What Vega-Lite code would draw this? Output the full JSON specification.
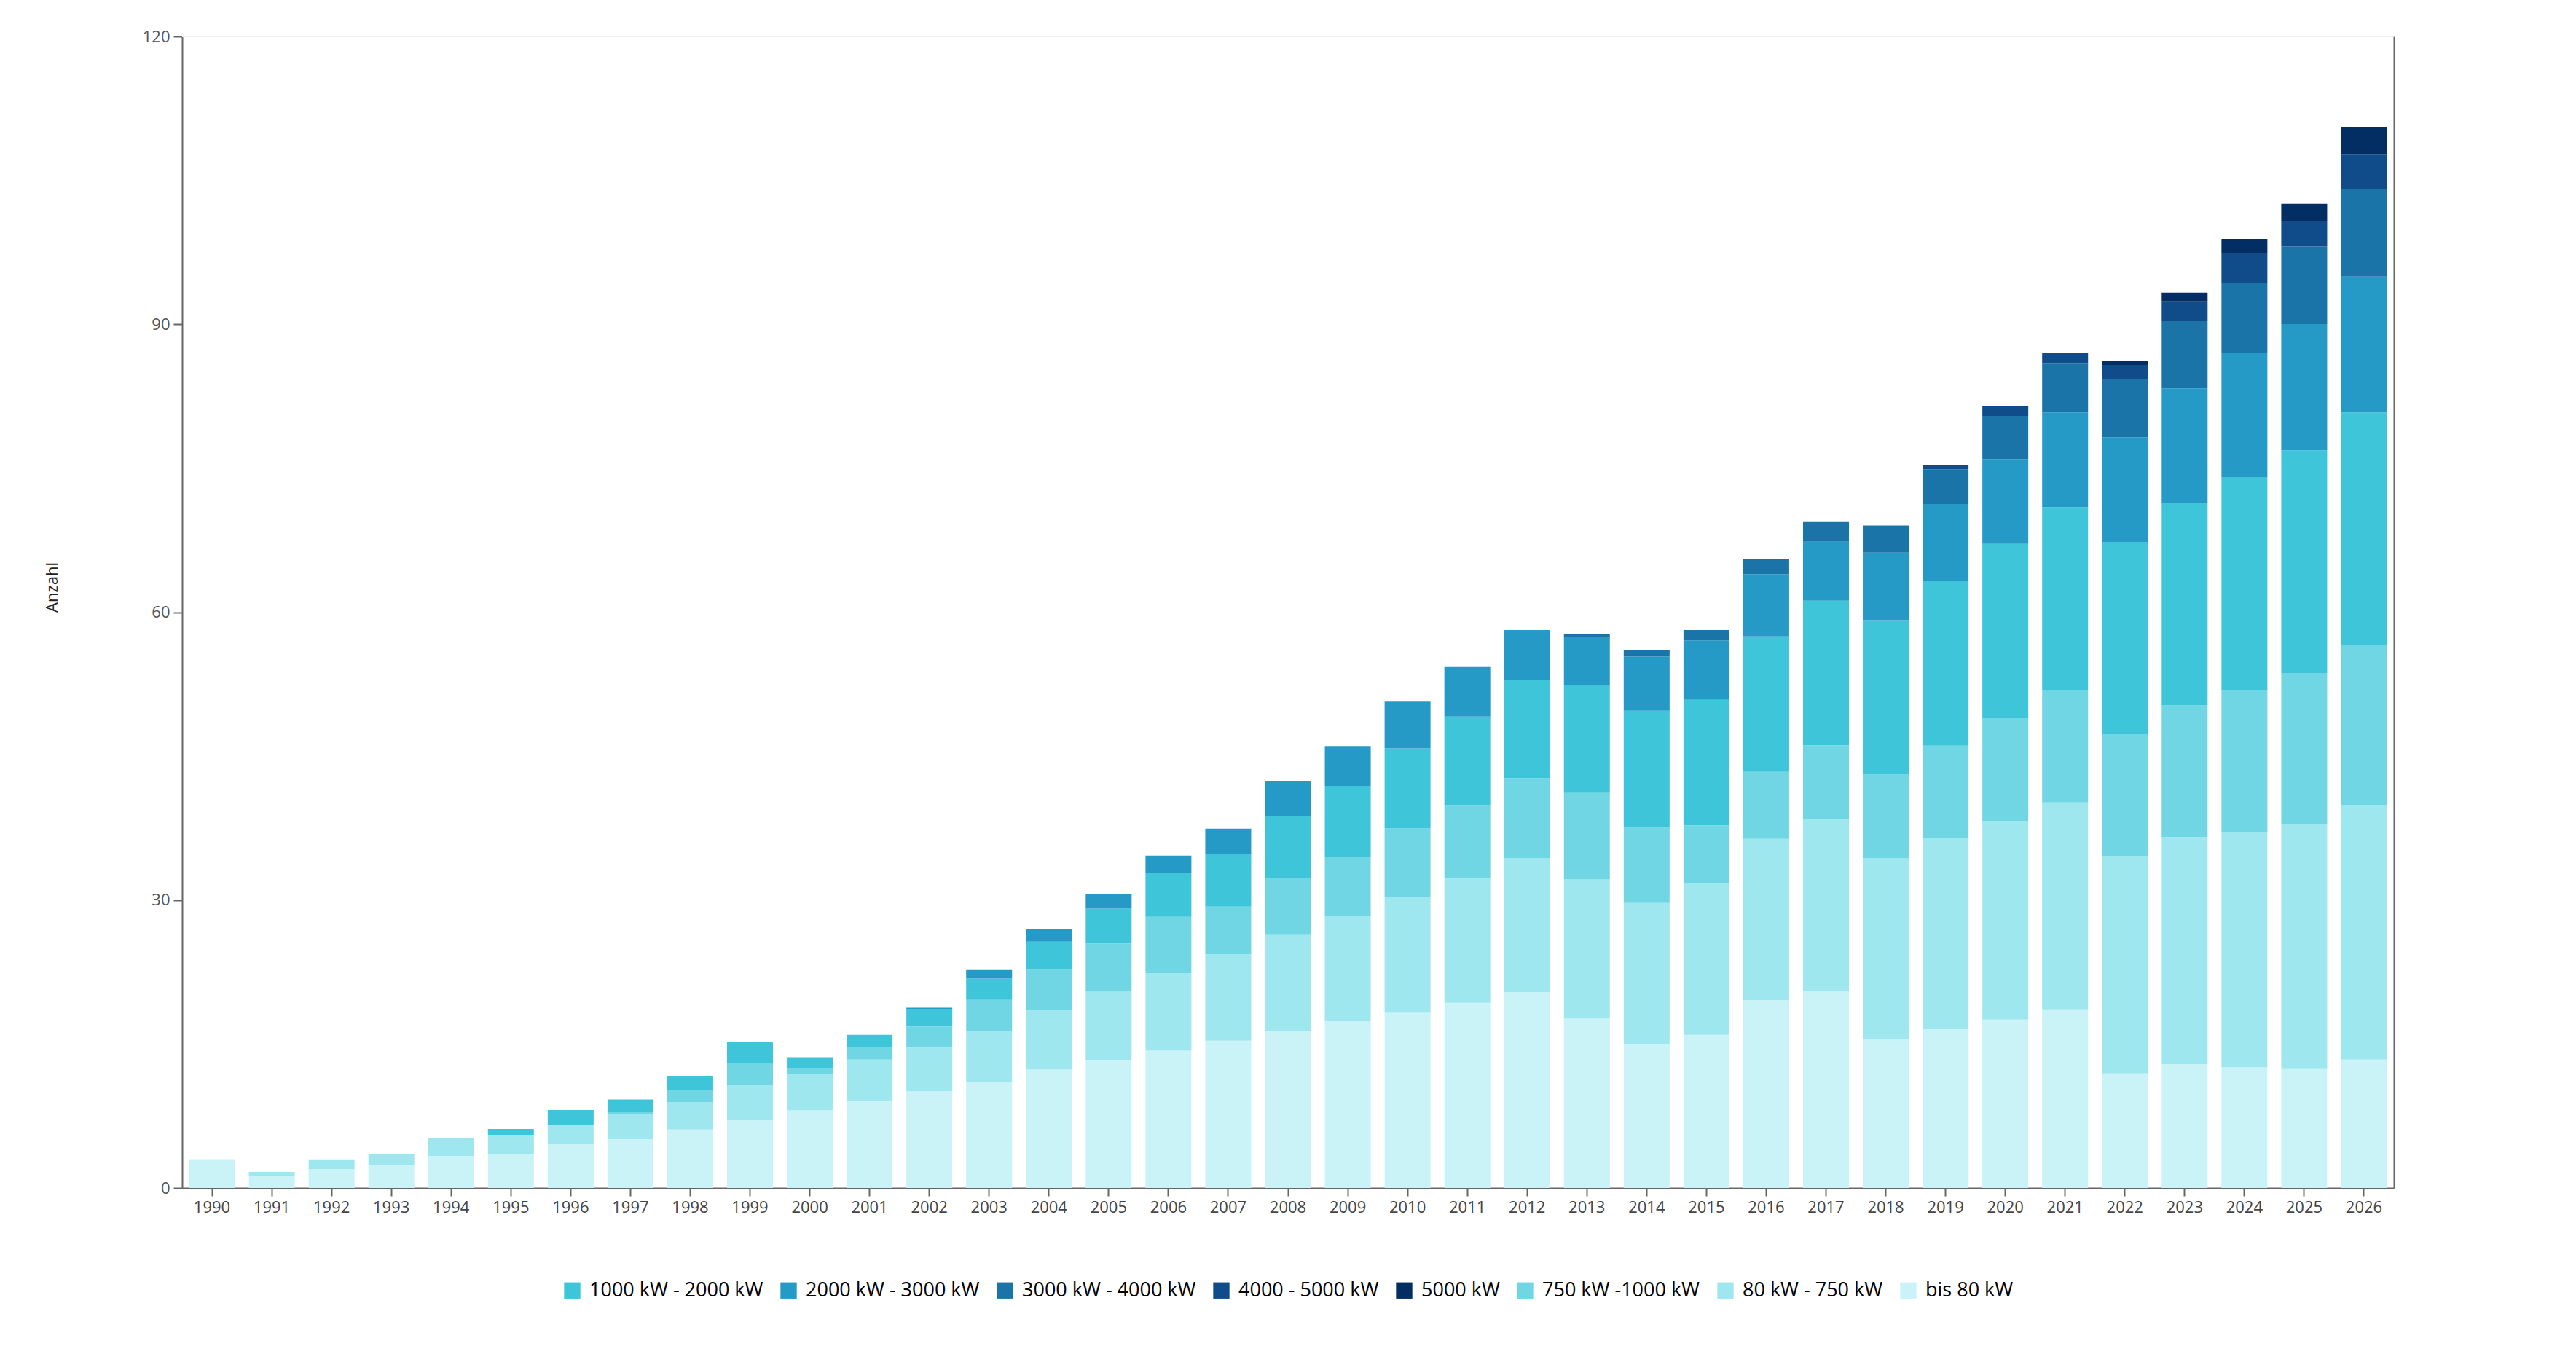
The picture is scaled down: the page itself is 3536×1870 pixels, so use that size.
{
  "$schema": "https://vega.github.io/schema/vega-lite/v6.json",
  "width": 3036,
  "height": 1581,
  "autosize": {"type": "none"},
  "padding": {"left": 250, "top": 50, "right": 250, "bottom": 239},
  "config": {
    "background": "white",
    "font": "Open Sans",
    "view": {"stroke": null},
    "axis": {"domainColor": "#666666", "tickColor": "#666666", "domainWidth": 2, "tickWidth": 2, "grid": false},
    "legend": {"layout": {"bottom": {"anchor": "middle"}}}
  },
  "layer": [
    {
      "data": {
        "values": [
          {"Jahr": "1990", "bis 80 kW": 3.0},
          {"Jahr": "1991", "bis 80 kW": 1.24, "80 kW - 750 kW": 0.43},
          {"Jahr": "1992", "bis 80 kW": 1.95, "80 kW - 750 kW": 1.03},
          {"Jahr": "1993", "bis 80 kW": 2.35, "80 kW - 750 kW": 1.14},
          {"Jahr": "1994", "bis 80 kW": 3.34, "80 kW - 750 kW": 1.84},
          {"Jahr": "1995", "bis 80 kW": 3.51, "80 kW - 750 kW": 2.03, "1000 kW - 2000 kW": 0.6},
          {"Jahr": "1996", "bis 80 kW": 4.55, "80 kW - 750 kW": 1.97, "1000 kW - 2000 kW": 1.6},
          {"Jahr": "1997", "bis 80 kW": 5.08, "80 kW - 750 kW": 2.58, "750 kW -1000 kW": 0.23, "1000 kW - 2000 kW": 1.34},
          {"Jahr": "1998", "bis 80 kW": 6.09, "80 kW - 750 kW": 2.86, "750 kW -1000 kW": 1.29, "1000 kW - 2000 kW": 1.44},
          {"Jahr": "1999", "bis 80 kW": 7.05, "80 kW - 750 kW": 3.67, "750 kW -1000 kW": 2.25, "1000 kW - 2000 kW": 2.28},
          {"Jahr": "2000", "bis 80 kW": 8.09, "80 kW - 750 kW": 3.74, "750 kW -1000 kW": 0.69, "1000 kW - 2000 kW": 1.11},
          {"Jahr": "2001", "bis 80 kW": 9.06, "80 kW - 750 kW": 4.31, "750 kW -1000 kW": 1.29, "1000 kW - 2000 kW": 1.29},
          {"Jahr": "2002", "bis 80 kW": 10.07, "80 kW - 750 kW": 4.56, "750 kW -1000 kW": 2.2, "1000 kW - 2000 kW": 1.82, "2000 kW - 3000 kW": 0.13},
          {"Jahr": "2003", "bis 80 kW": 11.07, "80 kW - 750 kW": 5.29, "750 kW -1000 kW": 3.24, "1000 kW - 2000 kW": 2.23, "2000 kW - 3000 kW": 0.88},
          {"Jahr": "2004", "bis 80 kW": 12.33, "80 kW - 750 kW": 6.17, "750 kW -1000 kW": 4.24, "1000 kW - 2000 kW": 2.93, "2000 kW - 3000 kW": 1.29},
          {"Jahr": "2005", "bis 80 kW": 13.31, "80 kW - 750 kW": 7.14, "750 kW -1000 kW": 5.03, "1000 kW - 2000 kW": 3.62, "2000 kW - 3000 kW": 1.51},
          {"Jahr": "2006", "bis 80 kW": 14.31, "80 kW - 750 kW": 8.09, "750 kW -1000 kW": 5.85, "1000 kW - 2000 kW": 4.56, "2000 kW - 3000 kW": 1.82},
          {"Jahr": "2007", "bis 80 kW": 15.35, "80 kW - 750 kW": 9.0, "750 kW -1000 kW": 4.97, "1000 kW - 2000 kW": 5.47, "2000 kW - 3000 kW": 2.64},
          {"Jahr": "2008", "bis 80 kW": 16.36, "80 kW - 750 kW": 10.0, "750 kW -1000 kW": 5.98, "1000 kW - 2000 kW": 6.38, "2000 kW - 3000 kW": 3.71},
          {"Jahr": "2009", "bis 80 kW": 17.36, "80 kW - 750 kW": 10.98, "750 kW -1000 kW": 6.2, "1000 kW - 2000 kW": 7.36, "2000 kW - 3000 kW": 4.15},
          {"Jahr": "2010", "bis 80 kW": 18.25, "80 kW - 750 kW": 12.06, "750 kW -1000 kW": 7.14, "1000 kW - 2000 kW": 8.35, "2000 kW - 3000 kW": 4.88},
          {"Jahr": "2011", "bis 80 kW": 19.29, "80 kW - 750 kW": 12.95, "750 kW -1000 kW": 7.65, "1000 kW - 2000 kW": 9.24, "2000 kW - 3000 kW": 5.16},
          {"Jahr": "2012", "bis 80 kW": 20.41, "80 kW - 750 kW": 13.94, "750 kW -1000 kW": 8.35, "1000 kW - 2000 kW": 10.23, "2000 kW - 3000 kW": 5.21},
          {"Jahr": "2013", "bis 80 kW": 17.64, "80 kW - 750 kW": 14.5, "750 kW -1000 kW": 9.01, "1000 kW - 2000 kW": 11.27, "2000 kW - 3000 kW": 4.97, "3000 kW - 4000 kW": 0.38},
          {"Jahr": "2014", "bis 80 kW": 14.97, "80 kW - 750 kW": 14.73, "750 kW -1000 kW": 7.84, "1000 kW - 2000 kW": 12.2, "2000 kW - 3000 kW": 5.63, "3000 kW - 4000 kW": 0.66},
          {"Jahr": "2015", "bis 80 kW": 15.95, "80 kW - 750 kW": 15.82, "750 kW -1000 kW": 6.01, "1000 kW - 2000 kW": 13.09, "2000 kW - 3000 kW": 6.19, "3000 kW - 4000 kW": 1.08},
          {"Jahr": "2016", "bis 80 kW": 19.57, "80 kW - 750 kW": 16.8, "750 kW -1000 kW": 6.99, "1000 kW - 2000 kW": 14.12, "2000 kW - 3000 kW": 6.48, "3000 kW - 4000 kW": 1.55},
          {"Jahr": "2017", "bis 80 kW": 20.55, "80 kW - 750 kW": 17.88, "750 kW -1000 kW": 7.7, "1000 kW - 2000 kW": 15.06, "2000 kW - 3000 kW": 6.15, "3000 kW - 4000 kW": 2.06},
          {"Jahr": "2018", "bis 80 kW": 15.53, "80 kW - 750 kW": 18.82, "750 kW -1000 kW": 8.73, "1000 kW - 2000 kW": 16.09, "2000 kW - 3000 kW": 7.04, "3000 kW - 4000 kW": 2.82},
          {"Jahr": "2019", "bis 80 kW": 16.54, "80 kW - 750 kW": 19.89, "750 kW -1000 kW": 9.66, "1000 kW - 2000 kW": 17.13, "2000 kW - 3000 kW": 8.06, "3000 kW - 4000 kW": 3.62, "4000 - 5000 kW": 0.44},
          {"Jahr": "2020", "bis 80 kW": 17.55, "80 kW - 750 kW": 20.71, "750 kW -1000 kW": 10.69, "1000 kW - 2000 kW": 18.16, "2000 kW - 3000 kW": 8.85, "3000 kW - 4000 kW": 4.5, "4000 - 5000 kW": 0.99},
          {"Jahr": "2021", "bis 80 kW": 18.54, "80 kW - 750 kW": 21.63, "750 kW -1000 kW": 11.69, "1000 kW - 2000 kW": 19.09, "2000 kW - 3000 kW": 9.87, "3000 kW - 4000 kW": 5.08, "4000 - 5000 kW": 1.09},
          {"Jahr": "2022", "bis 80 kW": 11.93, "80 kW - 750 kW": 22.69, "750 kW -1000 kW": 12.66, "1000 kW - 2000 kW": 20.04, "2000 kW - 3000 kW": 10.92, "3000 kW - 4000 kW": 6.06, "4000 - 5000 kW": 1.46, "5000 kW": 0.44},
          {"Jahr": "2023", "bis 80 kW": 12.91, "80 kW - 750 kW": 23.66, "750 kW -1000 kW": 13.72, "1000 kW - 2000 kW": 21.13, "2000 kW - 3000 kW": 11.9, "3000 kW - 4000 kW": 7.01, "4000 - 5000 kW": 2.07, "5000 kW": 0.91},
          {"Jahr": "2024", "bis 80 kW": 12.58, "80 kW - 750 kW": 24.54, "750 kW -1000 kW": 14.74, "1000 kW - 2000 kW": 22.22, "2000 kW - 3000 kW": 12.92, "3000 kW - 4000 kW": 7.33, "4000 - 5000 kW": 3.12, "5000 kW": 1.45},
          {"Jahr": "2025", "bis 80 kW": 12.4, "80 kW - 750 kW": 25.55, "750 kW -1000 kW": 15.72, "1000 kW - 2000 kW": 23.2, "2000 kW - 3000 kW": 13.14, "3000 kW - 4000 kW": 8.09, "4000 - 5000 kW": 2.62, "5000 kW": 1.85},
          {"Jahr": "2026", "bis 80 kW": 13.38, "80 kW - 750 kW": 26.54, "750 kW -1000 kW": 16.69, "1000 kW - 2000 kW": 24.21, "2000 kW - 3000 kW": 14.16, "3000 kW - 4000 kW": 9.11, "4000 - 5000 kW": 3.6, "5000 kW": 2.83}
        ]
      },
      "transform": [
        {"fold": ["bis 80 kW", "80 kW - 750 kW", "750 kW -1000 kW", "1000 kW - 2000 kW", "2000 kW - 3000 kW", "3000 kW - 4000 kW", "4000 - 5000 kW", "5000 kW"], "as": ["Klasse", "Anzahl"]},
        {"filter": "isValid(datum.Anzahl)"},
        {"calculate": "indexof(['bis 80 kW', '80 kW - 750 kW', '750 kW -1000 kW', '1000 kW - 2000 kW', '2000 kW - 3000 kW', '3000 kW - 4000 kW', '4000 - 5000 kW', '5000 kW'], datum.Klasse)", "as": "Stapel"}
      ],
      "mark": {"type": "bar"},
      "encoding": {
        "x": {
          "field": "Jahr",
          "type": "ordinal",
          "scale": {"paddingInner": 0.232, "paddingOuter": 0.116},
          "axis": {"title": null, "labelAngle": 0, "labelFontSize": 22, "labelColor": "#444444", "tickSize": 11, "labelPadding": 5}
        },
        "y": {
          "field": "Anzahl",
          "type": "quantitative",
          "stack": "zero",
          "scale": {"domain": [0, 120], "nice": false},
          "axis": {
            "values": [0, 30, 60, 90, 120],
            "title": "Anzahl",
            "titleFontSize": 22,
            "titleFontWeight": "normal",
            "titleColor": "#222222",
            "titleAlign": "left",
            "titlePadding": 112,
            "labelFontSize": 22,
            "labelColor": "#555555",
            "tickSize": 12,
            "labelPadding": 5
          }
        },
        "color": {
          "field": "Klasse",
          "type": "nominal",
          "scale": {
            "domain": ["1000 kW - 2000 kW", "2000 kW - 3000 kW", "3000 kW - 4000 kW", "4000 - 5000 kW", "5000 kW", "750 kW -1000 kW", "80 kW - 750 kW", "bis 80 kW"],
            "range": ["#3ec5d9", "#259ac6", "#1a74a8", "#0f4c89", "#032e63", "#70d6e3", "#9fe7ee", "#c9f3f7"]
          },
          "legend": {
            "title": null,
            "orient": "bottom",
            "direction": "horizontal",
            "symbolType": "square",
            "symbolSize": 500,
            "symbolStrokeWidth": 0,
            "labelFontSize": 27,
            "labelLimit": 0,
            "labelColor": "#000000",
            "labelOffset": 10,
            "columnPadding": 21,
            "offset": 90
          }
        },
        "order": {"field": "Stapel", "type": "quantitative", "sort": "ascending"}
      }
    },
    {
      "data": {"values": [{}]},
      "mark": {"type": "rule", "color": "#eeeeee", "strokeWidth": 2},
      "encoding": {
        "y": {
          "datum": 120,
          "type": "quantitative",
          "axis": {"orient": "right", "labels": false, "ticks": false, "title": null, "domainColor": "#666666"}
        }
      }
    }
  ],
  "resolve": {"axis": {"y": "independent"}}
}
